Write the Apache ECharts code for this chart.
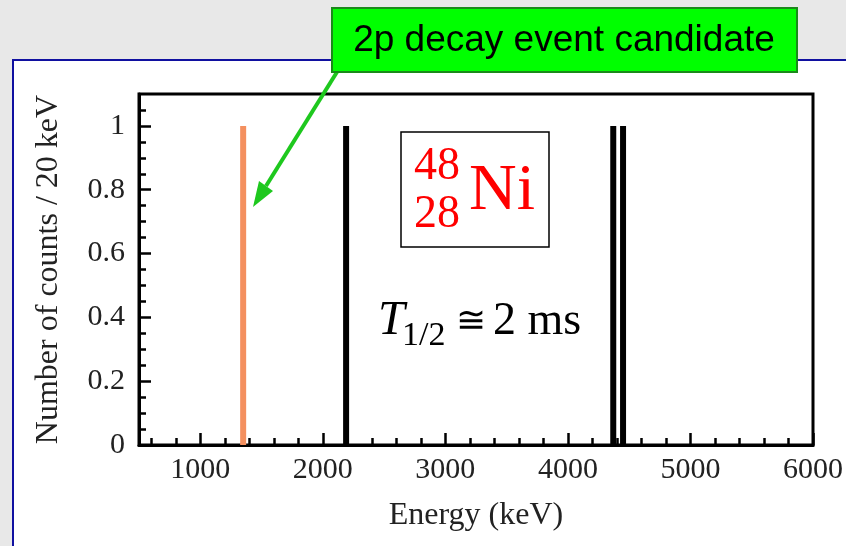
<!DOCTYPE html>
<html>
<head>
<meta charset="UTF-8">
<title>48Ni 2p decay</title>
<script src="https://cdn.jsdelivr.net/npm/echarts@6/dist/echarts.min.js"></script>
<style>
  html, body { margin: 0; padding: 0; background: #e8e8e8; }
  #main { width: 846px; height: 546px; }
</style>
</head>
<body>
<div id="main"></div>
<script>
// energies in keV, counts per 20 keV bin
var candidateEnergy = [1350];
var candidateCounts = [1];
var eventEnergies = [2190, 4370, 4450];
var eventCounts = [1, 1, 1];

var xMajorTicks = [1000, 2000, 3000, 4000, 5000, 6000];
var yMajorTicks = [0, 0.2, 0.4, 0.6, 0.8, 1];

// minor ticks: every 200 keV on x, every 0.05 on y
var xMinorTicks = [];
for (var e = 600; e < 6000; e += 200) { if (e % 1000) xMinorTicks.push(e); }
var yMinorTicks = [];
for (var k = 1; k <= 21; k++) { if (k % 4) yMinorTicks.push(+(k * 0.05).toFixed(2)); }

var serif = '"Liberation Serif", "DejaVu Serif", serif';
var tickStyle = { color: '#000', width: 2.5 };

var chart = echarts.init(document.getElementById('main'));
var option = {
  backgroundColor: '#e8e8e8',
  animation: false,
  grid: {
    left: 139, right: 33, top: 94, bottom: 101,
    show: true, borderColor: '#000', borderWidth: 3, backgroundColor: '#fff'
  },
  xAxis: [{
    type: 'value', min: 500, max: 6000,
    name: 'Energy (keV)', nameLocation: 'middle', nameGap: 55,
    nameTextStyle: { fontFamily: serif, fontSize: 32, color: '#222' },
    axisLine: { lineStyle: { color: '#000', width: 3 } },
    axisTick: { inside: true, length: 12, customValues: xMajorTicks, lineStyle: tickStyle },
    axisLabel: {
      customValues: xMajorTicks, fontFamily: serif, fontSize: 30, color: '#222', margin: 10,
      formatter: function (v) { return String(v); }
    },
    splitLine: { show: false }
  }, {
    type: 'value', min: 500, max: 6000, position: 'bottom',
    axisLine: { show: false }, axisLabel: { show: false }, splitLine: { show: false },
    axisTick: { inside: true, length: 7, customValues: xMinorTicks, lineStyle: tickStyle }
  }],
  yAxis: [{
    type: 'value', min: 0, max: 1.1,
    name: 'Number of counts / 20 keV', nameLocation: 'middle', nameGap: 74,
    nameTextStyle: { fontFamily: serif, fontSize: 32, color: '#222' },
    axisLine: { show: true, lineStyle: { color: '#000', width: 3 } },
    axisTick: { show: true, inside: true, length: 12, customValues: yMajorTicks, lineStyle: tickStyle },
    axisLabel: { customValues: yMajorTicks, fontFamily: serif, fontSize: 30, color: '#222', margin: 14 },
    splitLine: { show: false }
  }, {
    type: 'value', min: 0, max: 1.1, position: 'left',
    axisLine: { show: false }, axisLabel: { show: false }, splitLine: { show: false },
    axisTick: { show: true, inside: true, length: 7, customValues: yMinorTicks, lineStyle: tickStyle }
  }],
  series: [{
    name: '2p candidate',
    type: 'bar',
    barWidth: 6,
    barGap: '-100%',
    itemStyle: { color: '#f4905f' },
    data: candidateEnergy.map(function (x, i) { return [x, candidateCounts[i]]; })
  }, {
    name: 'events',
    type: 'bar',
    barWidth: 6,
    barGap: '-100%',
    itemStyle: { color: '#000' },
    data: eventEnergies.map(function (x, i) { return [x, eventCounts[i]]; })
  }],
  graphic: [
    // slide panel
    { type: 'rect', z: -5, shape: { x: 13, y: 60, width: 900, height: 600 },
      style: { fill: '#fff', stroke: '#1010a0', lineWidth: 2 } },
    // nuclide box
    { type: 'rect', z: 10, shape: { x: 401, y: 132, width: 148, height: 115 },
      style: { fill: '#fff', stroke: '#000', lineWidth: 1.5 } },
    { type: 'text', z: 11, x: 414, y: 167,
      style: { text: '48', font: '46px ' + serif, fill: '#ff0000', verticalAlign: 'middle' } },
    { type: 'text', z: 11, x: 414, y: 215,
      style: { text: '28', font: '46px ' + serif, fill: '#ff0000', verticalAlign: 'middle' } },
    { type: 'text', z: 11, x: 469, y: 192,
      style: { text: 'Ni', font: '66px ' + serif, fill: '#ff0000', verticalAlign: 'middle' } },
    // half-life
    { type: 'text', z: 11, x: 378, y: 321,
      style: { text: 'T', font: 'italic 48px ' + serif, fill: '#000', verticalAlign: 'middle' } },
    { type: 'text', z: 11, x: 402, y: 336,
      style: { text: '1/2', font: '34px ' + serif, fill: '#000', verticalAlign: 'middle' } },
    { type: 'text', z: 11, x: 456, y: 323,
      style: { text: '\u2245', font: '36px ' + serif, fill: '#000', verticalAlign: 'middle' } },
    { type: 'text', z: 11, x: 493, y: 322,
      style: { text: '2 ms', font: '46px ' + serif, fill: '#000', verticalAlign: 'middle' } },
    // callout arrow
    { type: 'line', z: 20, shape: { x1: 337, y1: 72, x2: 266, y2: 186 },
      style: { stroke: '#1ec81e', lineWidth: 4 } },
    { type: 'polygon', z: 20, shape: { points: [[253, 207], [273, 191], [259, 181]] },
      style: { fill: '#1ec81e' } },
    // callout box
    { type: 'rect', z: 21, shape: { x: 332, y: 8, width: 465, height: 64 },
      style: { fill: '#00ff00', stroke: '#1a8a1a', lineWidth: 2 } },
    { type: 'text', z: 22, x: 564, y: 41,
      style: { text: '2p decay event candidate', font: '37px "Liberation Sans", Arial, sans-serif',
        fill: '#000', align: 'center', verticalAlign: 'middle' } }
  ]
};
chart.setOption(option);
</script>
</body>
</html>
